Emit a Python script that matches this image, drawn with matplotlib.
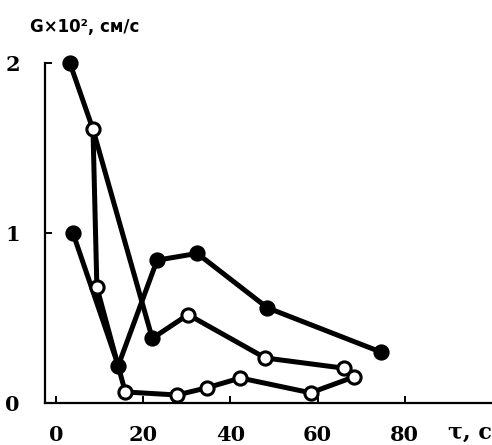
import matplotlib
matplotlib.use("Agg")
import matplotlib.pyplot as plt

#--- data (tau in s, G x 10^2 in cm/s)
tau_a = [3.9, 14.3, 23.2, 32.4, 48.5, 74.5]
g_a = [1.00, 0.22, 0.84, 0.88, 0.56, 0.30]

tau_b = [3.2, 8.5, 22.1, 30.3, 48.0, 66.0]
g_b = [2.00, 1.61, 0.38, 0.52, 0.265, 0.205]

tau_c = [8.5, 9.4, 15.9, 27.8, 34.7, 42.3, 58.4, 68.3]
g_c = [1.61, 0.68, 0.065, 0.047, 0.09, 0.147, 0.06, 0.153]

x_ticks = [0, 20, 40, 60, 80]
y_ticks = [0, 1, 2]

#--- marker fill per point (True = filled)
fill_a = [True] * len(tau_a)
fill_b = [True, False, True, False, False, False]
fill_c = [False] * len(tau_c)

W, H = 492, 445
fig = plt.figure(figsize=(W / 100, H / 100), dpi=100)
ax = fig.add_axes([45 / W, 42 / H, (W - 45) / W, 340 / H])

lw = 3.6
for t, g, f, first in [(tau_a, g_a, fill_a, True), (tau_b, g_b, fill_b, True),
                       (tau_c, g_c, fill_c, False)]:
    ax.plot(t, g, color='black', lw=lw, solid_joinstyle='round',
            solid_capstyle='round', clip_on=False, zorder=2)
    start = 0 if first else 1
    for xi, yi, fi in zip(t[start:], g[start:], f[start:]):
        ax.plot(xi, yi, 'o', ms=9.5, mec='black', mew=2.2,
                mfc='black' if fi else 'white', clip_on=False, zorder=3)

ax.set_xlim(-2.5, 100)
ax.set_ylim(0, 2.0)
ax.set_xticks(x_ticks)
ax.set_yticks(y_ticks)

for s in ['top', 'right']:
    ax.spines[s].set_visible(False)
for s in ['left', 'bottom']:
    ax.spines[s].set_linewidth(1.6)

ax.tick_params(axis='both', direction='in', length=5, width=1.4,
               labelsize=15)
ax.tick_params(axis='x', pad=16)
ax.tick_params(axis='y', pad=18)
for lab in ax.get_xticklabels() + ax.get_yticklabels():
    lab.set_family('DejaVu Serif')
    lab.set_fontweight('bold')

fig.text(30 / W, 1 - 27 / H, 'G×10², см/с', fontsize=12,
         ha='left', va='center', family='DejaVu Sans', fontweight='bold')
fig.text(448 / W, 1 - 433 / H, 'τ, с', fontsize=16,
         ha='left', va='center', family='DejaVu Serif', fontweight='bold')

fig.savefig('out.png', dpi=100)
